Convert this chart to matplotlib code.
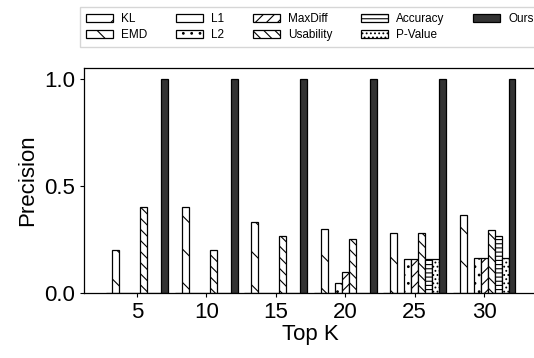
import numpy as np
import matplotlib
matplotlib.use("Agg")
import matplotlib.pyplot as plt

plt.rcParams['font.family'] = ['Liberation Sans', 'DejaVu Sans']
plt.rcParams['hatch.linewidth'] = 0.8

top_k = [5, 10, 15, 20, 25, 30]
methods = ['KL', 'EMD', 'L1', 'L2', 'MaxDiff', 'Usability', 'Accuracy', 'P-Value', 'Ours']
hatches = ['/', '\\', '-', '..', '///', '\\\\\\', '----', '....', '']

kl = [0, 0, 0, 0, 0, 0]
emd = [0.20, 0.40, 0.33, 0.30, 0.28, 0.365]
l1 = [0, 0, 0, 0, 0, 0]
l2 = [0, 0, 0, 0.045, 0.16, 0.165]
maxdiff = [0, 0, 0, 0.10, 0.16, 0.165]
usability = [0.40, 0.20, 0.265, 0.25, 0.28, 0.295]
accuracy = [0, 0, 0, 0, 0.16, 0.265]
pvalue = [0, 0, 0, 0, 0.16, 0.165]
ours = [1.0, 1.0, 1.0, 1.0, 1.0, 1.0]

series = [kl, emd, l1, l2, maxdiff, usability, accuracy, pvalue, ours]

fig = plt.figure(figsize=(5.34, 3.58), dpi=100)
ax = fig.add_axes([84 / 534, 1 - 293 / 358, (537 - 84) / 534, (293 - 68) / 358])

x = np.arange(len(top_k))
width = 0.1
for i, (name, vals, h) in enumerate(zip(methods, series, hatches)):
    face = '#333333' if name == 'Ours' else 'white'
    ax.bar(x + (i - 4) * width, vals, width, label=name, color=face,
           edgecolor='black', linewidth=0.9, hatch=h)

ax.set_xlim(-0.76, 5.76)
ax.set_ylim(0, 1.05)
ax.set_xticks(x)
ax.set_xticklabels([str(k) for k in top_k])
ax.set_yticks([0.0, 0.5, 1.0])
ax.tick_params(axis='both', labelsize=16, length=3, width=0.8)
ax.set_xlabel('Top K', fontsize=16, labelpad=1)
ax.set_ylabel('Precision', fontsize=16, labelpad=4)
for s in ax.spines.values():
    s.set_linewidth(0.9)

fig.legend(loc='upper left', bbox_to_anchor=(80 / 534, 1 - 7 / 358),
           bbox_transform=fig.transFigure, ncol=5, fontsize=8.5,
           handlelength=2.3, handletextpad=0.7, columnspacing=2.4,
           labelspacing=0.35, borderpad=0.5,
           borderaxespad=0, frameon=True, fancybox=False, edgecolor='#cccccc')

fig.savefig('out.png', dpi=100)
